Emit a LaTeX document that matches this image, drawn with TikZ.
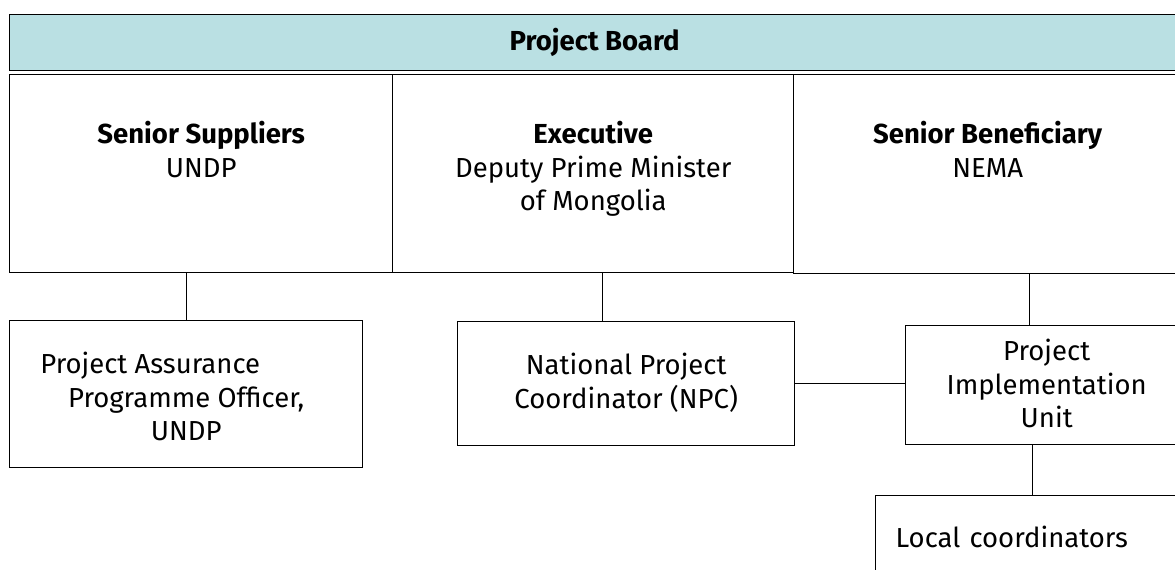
\documentclass[tikz,border=0pt]{standalone}
\usepackage{fontspec}
\setmainfont{Fira Sans}
\usetikzlibrary{calc}
\definecolor{boardfill}{RGB}{186,224,227}
% stacked, centred lines whose baseline is the baseline of the first line
\newcommand{\stackedlines}[1]{\begin{tabular}[t]{@{}c@{}}#1\end{tabular}}
\begin{document}
\begin{tikzpicture}[x=1pt,y=-1pt,
  box/.style={draw=black,line width=1.4pt,inner sep=0pt,anchor=north west,
    font=\fontsize{27.5}{33.5}\selectfont},
  link/.style={draw=black,line width=1.4pt}]
\useasboundingbox (0,0) rectangle (1175,570);
\clip (0,0) rectangle (1175,570);

% board header
\node[box,fill=boardfill,minimum width=1170pt,text height=36pt,text depth=20pt]
  (pb) at (9,14) {\textbf{Project Board}};

% board members
\node[box,minimum width=383pt,text height=69pt,text depth=129pt]
  (ss) at (9,74) {\stackedlines{\textbf{Senior Suppliers}\\UNDP}};
\node[box,minimum width=401pt,text height=69pt,text depth=129pt]
  (ex) at (392,74) {\stackedlines{\textbf{Executive}\\Deputy Prime Minister\\of Mongolia}};
\node[box,minimum width=388pt,text height=69pt,text depth=130pt]
  (sb) at (793,74) {\stackedlines{\textbf{Senior Beneficiary}\\NEMA}};

% second level
\node[box,minimum width=353pt,text height=53pt,text depth=94pt]
  (pa) at (9,320) {\stackedlines{Project Assurance\kern72pt\\Programme Officer,\\UNDP}};
\node[box,minimum width=337pt,text height=53pt,text depth=71pt]
  (npc) at (457,321) {\stackedlines{National Project\\Coordinator (NPC)}};
\node[box,minimum width=282pt,text height=35pt,text depth=84pt]
  (piu) at (905,325) {\stackedlines{Project\\Implementation\\Unit}};
\node[box,inner xsep=20pt,text width=300pt,align=left,text height=52pt,text depth=50pt]
  (lc) at (875,495) {Local coordinators};

% connectors
\draw[link] (pa.north) -- (pa.north |- ss.south);
\draw[link] ([xshift=9.5pt]ex.south) -- ([xshift=9.5pt]ex.south |- npc.north);
\draw[link] ([xshift=-17.5pt]piu.north) -- ([xshift=-17.5pt]piu.north |- sb.south);
\draw[link] (npc.east) -- (npc.east -| piu.west);
\draw[link] ([xshift=-14pt]piu.south) -- ([xshift=-14pt]piu.south |- lc.north);
\end{tikzpicture}
\end{document}
